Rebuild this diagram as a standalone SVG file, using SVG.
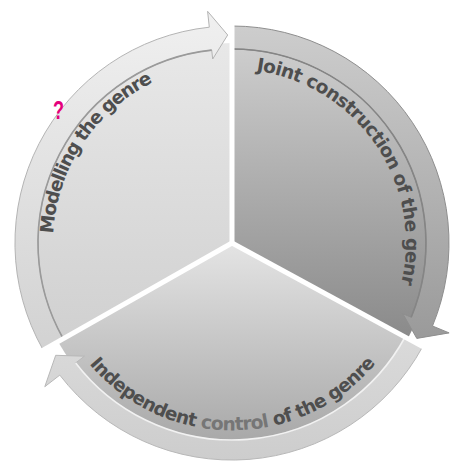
<svg xmlns="http://www.w3.org/2000/svg" width="452" height="465" viewBox="0 0 452 465">
<defs>
<linearGradient id="gA" x1="0" y1="0" x2="0" y2="1"><stop offset="0" stop-color="#e8e8e8"/><stop offset="1" stop-color="#d0d0d0"/></linearGradient>
<linearGradient id="gB" x1="0" y1="0" x2="0" y2="1"><stop offset="0" stop-color="#cecece"/><stop offset="1" stop-color="#8a8a8a"/></linearGradient>
<linearGradient id="gC" x1="0" y1="0" x2="0" y2="1"><stop offset="0" stop-color="#e4e4e4"/><stop offset="1" stop-color="#a8a8a8"/></linearGradient>
<linearGradient id="bA" x1="0" y1="0" x2="0" y2="1"><stop offset="0" stop-color="#f0f0f0"/><stop offset="1" stop-color="#d2d2d2"/></linearGradient>
<linearGradient id="bB" x1="0" y1="0" x2="0" y2="1"><stop offset="0" stop-color="#cdcdcd"/><stop offset="1" stop-color="#9a9a9a"/></linearGradient>
<linearGradient id="bC" x1="0" y1="0" x2="0" y2="1"><stop offset="0" stop-color="#dadada"/><stop offset="1" stop-color="#cdcdcd"/></linearGradient>
<path id="tpA" d="M53.2,233.6 A179,179 0 0 1 170.8,74.8"/>
<path id="tpB" d="M256.2,70.7 A174,174 0 0 1 395.5,302.5"/>
<path id="tpC" d="M89.4,364.0 A187,187 0 0 0 380,358"/>
</defs>
<style>
.lbl{font-family:"DejaVu Sans","Liberation Sans",Arial,sans-serif;font-weight:bold;font-size:18.5px;fill:#4e4e4e}
.band{stroke-width:1;stroke-linejoin:round}
.inner{fill:none;stroke-width:1.6}
.div{stroke:#ffffff;stroke-width:5;stroke-linecap:butt}
</style>
<rect width="452" height="465" fill="#ffffff"/>
<g id="node-modelling">
<path d="M232,243 L57.9,341.5 A200,200 0 0 1 232,43 Z" fill="url(#gA)"/>
<text class="lbl"><textPath href="#tpA" textLength="190" lengthAdjust="spacing">Modelling the genre</textPath></text>
</g>
<g id="node-joint">
<path d="M232,243 L232,43 A200,200 0 0 1 407.8,338.4 Z" fill="url(#gB)"/>
<text class="lbl"><textPath href="#tpB" textLength="290" lengthAdjust="spacing">Joint construction of the genr</textPath></text>
</g>
<g id="node-independent">
<path d="M232,243 L407.8,338.4 A200,200 0 0 1 57.9,341.5 Z" fill="url(#gC)"/>
<text class="lbl"><textPath href="#tpC" textLength="326" lengthAdjust="spacing">Independent <tspan fill="#767676">control</tspan> of the genre</textPath></text>
</g>
<g id="connectors">
<path class="band" d="M43.1,349.9 A217,217 0 0 1 209.3,27.2 L207.6,11.3 L227.7,35.0 L212.7,59.0 L211.7,50.1 A194,194 0 0 0 63.1,338.5 Z" fill="url(#bA)" stroke="#b4b4b4"/>
<path class="inner" d="M63.1,338.5 A194,194 0 0 1 211.7,50.1" stroke="#9a9a9a"/>
<path class="band" d="M232,26 A217,217 0 0 1 432.5,326.0 L449.1,332.9 L416.8,338.4 L402.9,313.8 L411.2,317.2 A194,194 0 0 0 232,49 Z" fill="url(#bB)" stroke="#8e8e8e"/>
<path class="inner" d="M232,49 A194,194 0 0 1 411.2,317.2" stroke="#858585"/>
<path class="band" d="M422.7,346.6 A217,217 0 0 1 59.8,375.1 L44.8,386.7 L55.7,355.3 L84.4,356.2 L75.7,362.9 A197,197 0 0 0 405.1,337.0 Z" fill="url(#bC)" stroke="#b8b8b8"/>
<path class="inner" d="M405.1,337.0 A197,197 0 0 1 75.7,362.9" stroke="#f2f2f2"/>
</g>
<g id="dividers">
<line class="div" x1="232" y1="243" x2="232" y2="22"/>
<line class="div" x1="232" y1="243" x2="426.4" y2="348.6"/>
<line class="div" x1="232" y1="243" x2="39.6" y2="352.2"/>
</g>
<text x="0" y="0" transform="translate(53,119) scale(0.72,1)" font-family="Liberation Sans, Arial, sans-serif" font-weight="bold" font-size="25" fill="#e4007c">?</text>
</svg>
